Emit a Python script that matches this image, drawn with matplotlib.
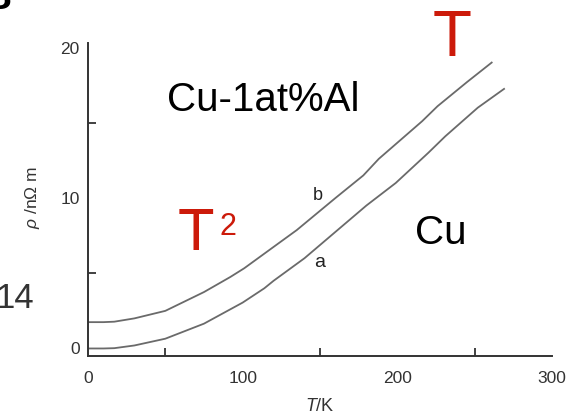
import matplotlib
matplotlib.use("Agg")
import matplotlib.pyplot as plt
import numpy as np

plt.rcParams['font.family'] = ['Liberation Sans', 'DejaVu Sans']
plt.rcParams['mathtext.fontset'] = 'custom'
plt.rcParams['mathtext.rm'] = 'Liberation Sans'
plt.rcParams['mathtext.it'] = 'Liberation Sans:italic'

# Data: resistivity (nOhm m) vs temperature (K)
T_a = [0, 10, 17, 30, 50, 75, 100, 114, 120, 140, 156, 180, 199, 220, 231, 252, 269]
rho_a = [0.0, 0.0, 0.02, 0.2, 0.65, 1.65, 3.05, 4.0, 4.5, 6.0, 7.4, 9.5, 11.0, 13.0, 14.1, 16.0, 17.25]
T_b = [0, 10, 17, 30, 50, 75, 92, 101, 120, 135, 160, 178, 188, 216, 226, 245, 261]
rho_b = [1.75, 1.75, 1.78, 2.0, 2.5, 3.75, 4.75, 5.33, 6.75, 7.87, 10.0, 11.5, 12.6, 15.1, 16.1, 17.7, 19.0]

x_tick_pos = [0, 100, 200, 300]
x_tick_labels = ['0', '100', '200', '300']
x_minor_pos = [50, 100, 150, 200, 250]
y_tick_pos = [0, 10, 20]
y_tick_labels = ['0', '10', '20']
y_minor_pos = [5, 10, 15]

fig = plt.figure(figsize=(5.67, 4.19), dpi=100)
ax = fig.add_axes([88/567, (419-356)/419, (552-88)/567, (356-43)/419])

line_col = '#6a6a6a'
ax.plot(T_a, rho_a, color=line_col, lw=1.3)
ax.plot(T_b, rho_b, color=line_col, lw=1.3)

ax.set_xlim(0, 300)
ax.set_ylim(-0.5, 20.3)

for s in ['top', 'right']:
    ax.spines[s].set_visible(False)
for s in ['left', 'bottom']:
    ax.spines[s].set_color('#333333')
    ax.spines[s].set_linewidth(1.4)

ax.set_xticks(x_tick_pos)
ax.set_xticklabels(x_tick_labels)
ax.set_xticks(x_minor_pos, minor=True)
ax.set_yticks(y_tick_pos)
ax.set_yticklabels(y_tick_labels)
ax.set_yticks(y_minor_pos, minor=True)
ax.tick_params(axis='both', which='major', length=0, labelsize=12.5, labelcolor='#333333')
ax.tick_params(axis='x', which='major', pad=11)
ax.tick_params(axis='y', which='major', pad=6)
ax.tick_params(axis='both', which='minor', direction='in', length=6, width=1.3, color='#333333')

fig.text(320/567, 1 - 406/419, r'$T$/K', ha='center', va='center', fontsize=13, color='#333333')
fig.text(32/567, 1 - 198/419, r'$\rho$ /n$\Omega$ m', ha='center', va='center', rotation=90,
         fontsize=12.5, color='#333333')

# Annotations
fig.text(263/567, 1 - 100/419, 'Cu-1at%Al', ha='center', va='center', fontsize=29, color='black')
fig.text(441/567, 1 - 233/419, 'Cu', ha='center', va='center', fontsize=29, color='black')
fig.text(452/567, 1 - 56/419, 'T', ha='center', va='baseline', fontsize=46, color='#cc1a0a')
fig.text(196/567, 1 - 250/419, 'T', ha='center', va='baseline', fontsize=43, color='#cc1a0a')
fig.text(228/567, 1 - 235/419, '2', ha='center', va='baseline', fontsize=22, color='#cc1a0a')
fig.text(318/567, 1 - 200/419, 'b', ha='center', va='baseline', fontsize=13, color='#222222')
fig.text(320/567, 1 - 267/419, 'a', ha='center', va='baseline', fontsize=14, color='#222222')
fig.text(34/567, 1 - 308/419, '14', ha='right', va='baseline', fontsize=25, color='#333333')
fig.text(12/567, 1 - 9/419, 'B', ha='right', va='baseline', fontsize=28, fontweight='bold', color='black')

fig.savefig('out.png', dpi=100)
